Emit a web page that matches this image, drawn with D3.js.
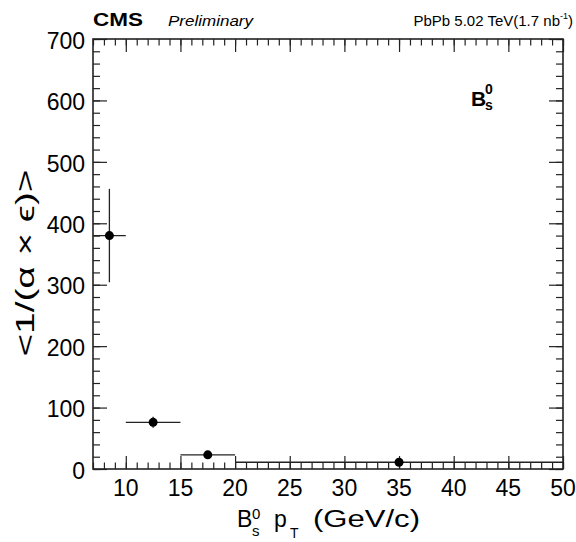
<!DOCTYPE html>
<html>
<head>
<meta charset="utf-8">
<script src="https://cdn.jsdelivr.net/npm/d3@7"></script>
<style>
  html, body { margin: 0; padding: 0; background: #fff; }
  svg { display: block; }
  text { font-family: "Liberation Sans", Arial, Helvetica, sans-serif; fill: #000; }
</style>
</head>
<body>
<svg id="chart" width="576" height="542"></svg>
<script>
// Bs0 pT bins and the mean inverse acceptance x efficiency in each bin
const binLow = [7, 10, 15, 20];
const binHigh = [10, 15, 20, 50];
const binCenter = [8.5, 12.5, 17.5, 35];
const invAccEff = [380, 76, 23, 11];
const invAccEffErr = [76, 9, 2, 1.5];

const xMajorTicks = [10, 15, 20, 25, 30, 35, 40, 45, 50];
const yMajorTicks = [0, 100, 200, 300, 400, 500, 600, 700];

const frame = { left: 93, right: 563, top: 39, bottom: 469 };
const ink = "#222";

const svg = d3.select("#chart");

const x = d3.scaleLinear().domain([7, 50]).range([frame.left, frame.right]);
const y = d3.scaleLinear().domain([0, 700]).range([frame.bottom, frame.top]);

const xMinor = d3.range(7, 51, 1);
const yMinor = d3.range(0, 701, 20);

// Inward ticks on all four sides, ROOT style
function tickAxis(axisFn, scale, values, size, tx, ty) {
  const g = svg.append("g")
    .attr("transform", `translate(${tx},${ty})`)
    .call(axisFn(scale).tickValues(values).tickSize(size).tickFormat(""));
  g.select(".domain").remove();
  g.selectAll(".tick line").attr("stroke", ink).attr("stroke-width", 1.2);
  return g;
}
tickAxis(d3.axisBottom, x, xMinor, -6.5, 0, frame.bottom);
tickAxis(d3.axisBottom, x, xMajorTicks, -13, 0, frame.bottom);
tickAxis(d3.axisTop, x, xMinor, -6.5, 0, frame.top);
tickAxis(d3.axisTop, x, xMajorTicks, -13, 0, frame.top);
tickAxis(d3.axisLeft, y, yMinor, -7, frame.left, 0);
tickAxis(d3.axisLeft, y, yMajorTicks, -14, frame.left, 0);
tickAxis(d3.axisRight, y, yMinor, -7, frame.right, 0);
tickAxis(d3.axisRight, y, yMajorTicks, -14, frame.right, 0);

// Frame
svg.append("rect")
  .attr("x", frame.left).attr("y", frame.top)
  .attr("width", frame.right - frame.left).attr("height", frame.bottom - frame.top)
  .attr("fill", "none").attr("stroke", ink).attr("stroke-width", 1.6);

// Tick labels
svg.append("g").selectAll("text").data(xMajorTicks).join("text")
  .attr("x", d => x(d)).attr("y", 496)
  .attr("text-anchor", "middle").attr("font-size", 23)
  .text(d => d);
svg.append("g").selectAll("text").data(yMajorTicks).join("text")
  .attr("x", 85).attr("y", d => y(d) + 1.5)
  .attr("dy", "0.36em")
  .attr("text-anchor", "end").attr("font-size", 23)
  .text(d => d);

// Data points with error bars
const pts = binCenter.map((c, i) => ({
  c, lo: binLow[i], hi: binHigh[i], v: invAccEff[i], e: invAccEffErr[i]
}));
const gp = svg.append("g");
gp.selectAll("line.h").data(pts).join("line").attr("class", "h")
  .attr("x1", d => x(d.lo)).attr("x2", d => x(d.hi))
  .attr("y1", d => y(d.v)).attr("y2", d => y(d.v))
  .attr("stroke", ink).attr("stroke-width", 1.3);
gp.selectAll("line.v").data(pts).join("line").attr("class", "v")
  .attr("x1", d => x(d.c)).attr("x2", d => x(d.c))
  .attr("y1", d => y(d.v - d.e)).attr("y2", d => y(d.v + d.e))
  .attr("stroke", ink).attr("stroke-width", 1.3);
gp.selectAll("circle").data(pts).join("circle")
  .attr("cx", d => x(d.c)).attr("cy", d => y(d.v)).attr("r", 4.5)
  .attr("fill", "#000");

// Header
svg.append("text").attr("x", 93).attr("y", 26)
  .attr("font-size", 18).attr("font-weight", "bold")
  .attr("textLength", 50).attr("lengthAdjust", "spacingAndGlyphs")
  .text("CMS");
svg.append("text").attr("x", 168).attr("y", 26)
  .attr("font-size", 15).attr("font-style", "italic")
  .attr("textLength", 85).attr("lengthAdjust", "spacingAndGlyphs")
  .text("Preliminary");
const lumi = svg.append("text").attr("x", 573).attr("y", 26)
  .attr("font-size", 15).attr("text-anchor", "end");
lumi.append("tspan").text("PbPb 5.02 TeV(1.7 nb");
lumi.append("tspan").attr("font-size", 9).attr("dy", -7).text("-1");
lumi.append("tspan").attr("dy", 7).text(")");

// In-plot species label
const lab = svg.append("g").attr("font-weight", "bold");
lab.append("text").attr("x", 471).attr("y", 106).attr("font-size", 21).text("B");
lab.append("text").attr("x", 485).attr("y", 94).attr("font-size", 14).text("0");
lab.append("text").attr("x", 485).attr("y", 110).attr("font-size", 14).text("s");

// X-axis title
const xt = svg.append("g").attr("font-size", 23);
xt.append("text").attr("x", 237).attr("y", 527).text("B");
xt.append("text").attr("x", 252).attr("y", 519).attr("font-size", 15).text("0");
xt.append("text").attr("x", 252).attr("y", 536).attr("font-size", 15).text("s");
xt.append("text").attr("x", 274).attr("y", 527).text("p");
xt.append("text").attr("x", 290).attr("y", 538).attr("font-size", 14).text("T");
xt.append("text").attr("x", 313).attr("y", 527)
  .attr("textLength", 107).attr("lengthAdjust", "spacingAndGlyphs")
  .text("(GeV/c)");

// Y-axis title
svg.append("text")
  .attr("transform", "translate(34,263) rotate(-90)")
  .attr("text-anchor", "middle").attr("font-size", 26)
  .attr("textLength", 187).attr("lengthAdjust", "spacingAndGlyphs")
  .text("<1/(α × ϵ)>");
</script>
</body>
</html>
